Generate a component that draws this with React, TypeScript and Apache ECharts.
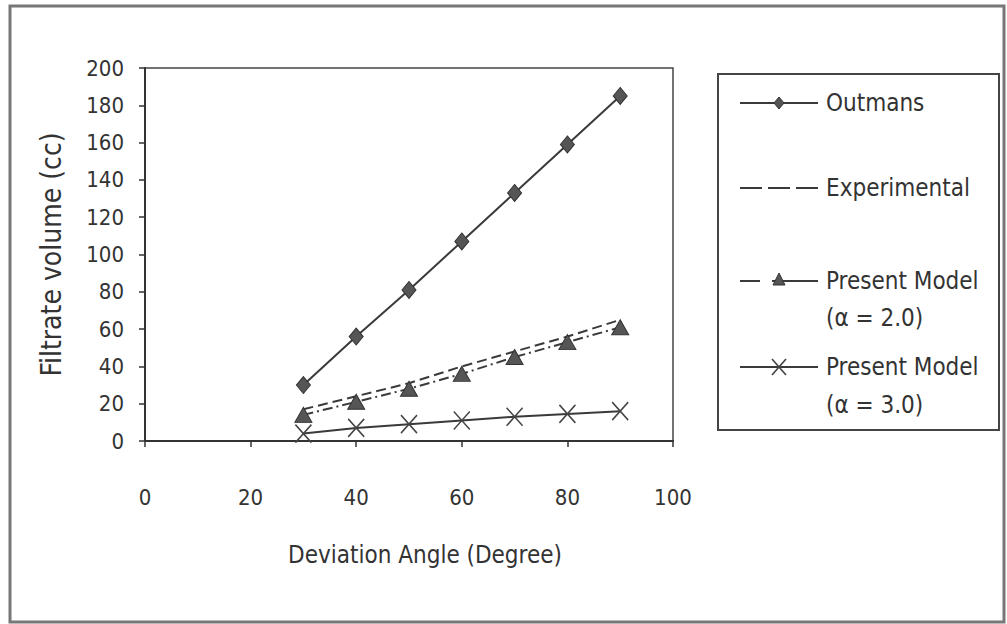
import React, { useEffect, useRef } from "react";
import * as echarts from "echarts";

const angles = [30, 40, 50, 60, 70, 80, 90];
const outmans = [30, 56, 81, 107, 133, 159, 185];
const experimental = [17, 24, 31, 40, 48, 56, 65];
const model2 = [14, 21, 28, 36, 45, 53, 61];
const model3 = [4, 7, 9, 11, 13, 14.5, 16];
const seriesNames = ["Outmans", "Experimental", "Present Model (α = 2.0)", "Present Model (α = 3.0)"];

const FONT = "'Liberation Sans Narrow', 'DejaVu Sans Condensed', 'Arial Narrow', sans-serif";
const INK = "#333";
const LINE = "#3a3a3a";

const pairs = (ys: number[]) => angles.map((a, i) => [a, ys[i]]);

export default function App() {
  const ref = useRef<HTMLDivElement>(null);
  useEffect(() => {
    if (!ref.current) return;
    const chart = echarts.init(ref.current, undefined, { renderer: "svg" });
    const lx0 = 740, lx1 = 818, lmid = 779, tx = 826;
    const txt = (t: string, y: number) => ({
      type: "text",
      x: tx,
      y,
      style: {
        text: t,
        fill: INK,
        font: `24px ${FONT}`,
        textAlign: "left",
        textVerticalAlign: "middle",
        align: "left",
        verticalAlign: "middle",
      },
    });
    chart.setOption({
      animation: false,
      backgroundColor: "#fff",
      grid: {
        left: 145,
        right: 334,
        top: 68,
        bottom: 183,
        show: true,
        borderColor: "#444",
        borderWidth: 1.5,
        backgroundColor: "transparent",
      },
      xAxis: {
        type: "value",
        min: 0,
        max: 100,
        interval: 20,
        name: "Deviation Angle (Degree)",
        nameLocation: "middle",
        nameGap: 102,
        nameTextStyle: { fontFamily: FONT, fontSize: 24, color: INK, padding: [0, 0, 0, 32] },
        axisLine: { show: true, onZero: false, lineStyle: { color: "#333", width: 2 } },
        axisTick: { show: true, length: 6, lineStyle: { color: "#333", width: 1.5 } },
        axisLabel: { margin: 45, fontFamily: FONT, fontSize: 22, color: INK },
        splitLine: { show: false },
      },
      yAxis: {
        type: "value",
        min: 0,
        max: 200,
        interval: 20,
        name: "Filtrate volume (cc)",
        nameLocation: "middle",
        nameGap: 80,
        nameTextStyle: { fontFamily: FONT, fontSize: 28, color: INK },
        axisLine: { show: true, lineStyle: { color: "#333", width: 2 } },
        axisTick: { show: true, length: 6, lineStyle: { color: "#333", width: 1.5 } },
        axisLabel: { margin: 21, fontFamily: FONT, fontSize: 22, color: INK },
        splitLine: { show: false },
      },
      series: [
        {
          name: seriesNames[0],
          type: "line",
          data: pairs(outmans),
          symbol: "diamond",
          symbolSize: [14, 17],
          itemStyle: { color: "#555", borderColor: "#333", borderWidth: 1 },
          lineStyle: { color: LINE, width: 2 },
        },
        {
          name: seriesNames[1],
          type: "line",
          data: pairs(experimental),
          symbol: "none",
          lineStyle: { color: LINE, width: 2, type: [10, 5] },
        },
        {
          name: seriesNames[2],
          type: "line",
          data: pairs(model2),
          symbol: "triangle",
          symbolSize: [17, 15],
          itemStyle: { color: "#555", borderColor: "#333", borderWidth: 1 },
          lineStyle: { color: LINE, width: 2, type: [10, 4, 2, 4] },
        },
        {
          name: seriesNames[3],
          type: "line",
          data: pairs(model3),
          symbol: "path://M0,0L16,18M16,0L0,18",
          symbolSize: [16, 18],
          itemStyle: { color: "none", borderColor: "#444", borderWidth: 1.6 },
          lineStyle: { color: LINE, width: 2 },
        },
      ],
      graphic: [
        {
          type: "rect",
          shape: { x: 10, y: 6, width: 994, height: 616 },
          style: { fill: "none", stroke: "#777", lineWidth: 3 },
          silent: true,
        },
        {
          type: "rect",
          shape: { x: 718, y: 74, width: 281, height: 356 },
          style: { fill: "#fff", stroke: "#444", lineWidth: 2 },
        },
        // Outmans
        { type: "line", shape: { x1: lx0, y1: 103, x2: lx1, y2: 103 }, style: { stroke: LINE, lineWidth: 2 } },
        {
          type: "polygon",
          shape: { points: [[lmid, 97], [lmid + 5, 103], [lmid, 109], [lmid - 5, 103]] },
          style: { fill: "#555", stroke: "#333", lineWidth: 1 },
        },
        txt(seriesNames[0], 103),
        // Experimental
        {
          type: "line",
          shape: { x1: lx0, y1: 188, x2: lx1, y2: 188 },
          style: { stroke: LINE, lineWidth: 2, lineDash: [22, 6] },
        },
        txt(seriesNames[1], 188),
        // Model 2.0
        { type: "line", shape: { x1: lx0, y1: 281, x2: 760, y2: 281 }, style: { stroke: LINE, lineWidth: 2 } },
        { type: "line", shape: { x1: 772, y1: 281, x2: lx1, y2: 281 }, style: { stroke: LINE, lineWidth: 2 } },
        {
          type: "polygon",
          shape: { points: [[lmid, 273], [lmid + 6, 285], [lmid - 6, 285]] },
          style: { fill: "#555", stroke: "#333", lineWidth: 1 },
        },
        txt("Present Model", 281),
        txt("(α = 2.0)", 318),
        // Model 3.0
        { type: "line", shape: { x1: lx0, y1: 367, x2: lx1, y2: 367 }, style: { stroke: LINE, lineWidth: 2 } },
        { type: "line", shape: { x1: lmid - 7, y1: 359, x2: lmid + 7, y2: 375 }, style: { stroke: "#444", lineWidth: 1.6 } },
        { type: "line", shape: { x1: lmid + 7, y1: 359, x2: lmid - 7, y2: 375 }, style: { stroke: "#444", lineWidth: 1.6 } },
        txt("Present Model", 367),
        txt("(α = 3.0)", 405),
      ],
    });
    return () => chart.dispose();
  }, []);
  return (
    <div
      ref={ref}
      style={{ position: "absolute", left: 0, top: 0, width: 1007, height: 624 }}
    />
  );
}
